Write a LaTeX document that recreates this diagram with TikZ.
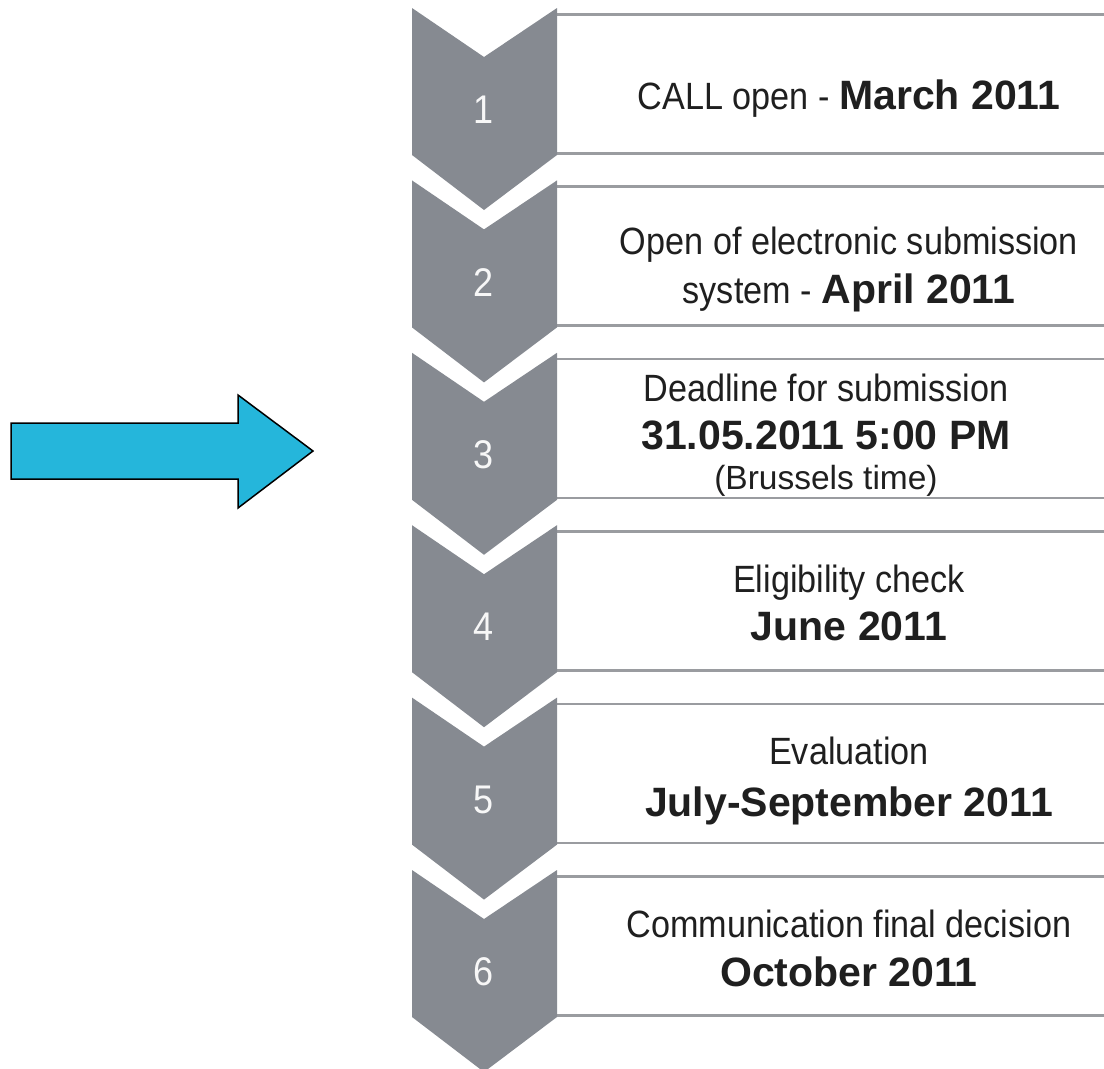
\documentclass[tikz,border=0pt]{standalone}
\usepackage{fontspec}
\setmainfont{Liberation Sans}[FakeStretch=0.9]
\newfontfamily\datefont{Liberation Sans}
\usetikzlibrary{positioning}

\definecolor{chevgray}{HTML}{868A91}
\definecolor{boxline}{HTML}{9A9CA0}
\definecolor{arrowblue}{HTML}{25B6DB}

\tikzset{
  chevron/.style={fill=chevgray,draw=none},
  stepnum/.style={text=white!94!gray,font=\fontsize{40}{44}\selectfont},
  stepbox/.style={draw=boxline,line width=2.5pt,fill=white,minimum width=600pt,
    minimum height=139pt,anchor=north west,inner sep=0pt},
  stepline/.style={anchor=base,inner sep=0pt,text=black!88,font=\fontsize{38}{46}\selectfont},
  smallline/.style={stepline,font=\datefont\fontsize{33.5}{40}\selectfont},
  bigarrow/.style={fill=arrowblue,draw=black,line width=1.5pt,line join=miter}
}
\newcommand{\datetxt}[1]{{\datefont\bfseries\fontsize{41}{48}\selectfont #1}}

\begin{document}
\begin{tikzpicture}[x=1pt,y=-1pt]
\clip (0,0) rectangle (1104,1069);
% blue arrow
\draw [bigarrow] (11,423) -- (238,423) -- (238,395) -- (313,451) -- (238,508)
  -- (238,479) -- (11,479) -- cycle;
% boxes first, chevrons with numbers on top
\foreach \k in {1,...,6} {
  \pgfmathsetmacro{\ytop}{8+172.4*(\k-1)}
  \node [stepbox] (box\k) at (550,\ytop+5) {};
  \fill [chevron] (412,\ytop) -- (484,\ytop+49) -- (557,\ytop) -- (557,\ytop+147)
    -- (484,\ytop+202) -- (412,\ytop+147) -- cycle;
  \node [stepnum] (num\k) at (484,\ytop+102) {\k};
}
% texts, one node per line
\node [stepline] (call) at (849,109) {CALL open - \datetxt{March 2011}};
\node [stepline] (open) at (849,254) {Open of electronic submission};
\node [stepline] (system) at (849,303) {system - \datetxt{April 2011}};
\node [stepline] (deadline) at (826,401) {Deadline for submission};
\node [stepline] (deadtime) at (826,449) {\datetxt{31.05.2011 5:00 PM}};
\node [smallline] (brussels) at (826,489) {(Brussels time)};
\node [stepline] (check) at (849,592) {Eligibility check};
\node [stepline] (june) at (849,640) {\datetxt{June 2011}};
\node [stepline] (evaluation) at (849,764) {Evaluation};
\node [stepline] (julysept) at (849,816) {\datetxt{July-September 2011}};
\node [stepline] (decision) at (849,937) {Communication final decision};
\node [stepline] (october) at (849,986) {\datetxt{October 2011}};
\end{tikzpicture}
\end{document}
